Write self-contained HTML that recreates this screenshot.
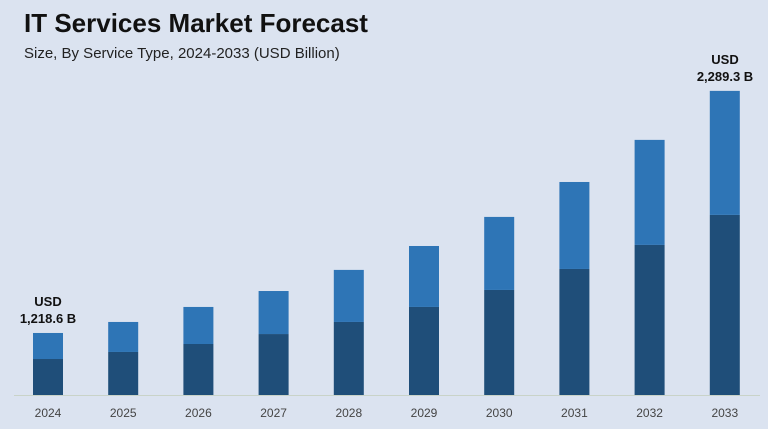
<!DOCTYPE html>
<html><head><meta charset="utf-8"><style>
body{margin:0;width:768px;height:424px;background:#dbe3f0;font-family:"Liberation Sans",sans-serif;overflow:hidden}
</style></head><body>
<svg width="768" height="424" xmlns="http://www.w3.org/2000/svg">
<rect width="768" height="424" fill="#dbe3f0"/>
<text x="24" y="32" font-size="26" font-weight="bold" fill="#111">IT Services Market Forecast</text>
<text x="24" y="58" font-size="15" fill="#222">Size, By Service Type, 2024-2033 (USD Billion)</text>
<line x1="14" x2="760" y1="395.5" y2="395.5" stroke="#c9d3c8" stroke-width="1"/>
<g id="bars"></g>
<text x="48" y="306" font-size="13" font-weight="bold" fill="#111" text-anchor="middle">USD</text>
<text x="48" y="323" font-size="13" font-weight="bold" fill="#111" text-anchor="middle">1,218.6 B</text>
<text x="725" y="64" font-size="13" font-weight="bold" fill="#111" text-anchor="middle">USD</text>
<text x="725" y="81" font-size="13" font-weight="bold" fill="#111" text-anchor="middle">2,289.3 B</text>
</svg>
<script>
const categories=["2024","2025","2026","2027","2028","2029","2030","2031","2032","2033"];
const darkValues=[271,324,384,459,550,663,791,949,1130,1356];
const lightValues=[196,226,279,324,392,459,550,655,791,934];
const NS="http://www.w3.org/2000/svg";
const baseY=395, pxPerUnit=1/7.53, x0=48, step=75.2, bw=30;
function y(v){return baseY-v*pxPerUnit;}
function xc(i){return x0+i*step;}
const g=document.getElementById('bars');
categories.forEach((c,i)=>{
  const d=darkValues[i], l=lightValues[i];
  const r1=document.createElementNS(NS,'rect');
  r1.setAttribute('x',xc(i)-bw/2);r1.setAttribute('y',y(d));r1.setAttribute('width',bw);r1.setAttribute('height',baseY-y(d));r1.setAttribute('fill','#1f4e79');
  
  
  g.appendChild(r1);
  const r2=document.createElementNS(NS,'rect');
  r2.setAttribute('x',xc(i)-bw/2);r2.setAttribute('y',y(d+l));r2.setAttribute('width',bw);r2.setAttribute('height',y(d)-y(d+l));r2.setAttribute('fill','#2e75b6');
  
  
  g.appendChild(r2);
  const t=document.createElementNS(NS,'text');
  t.setAttribute('x',xc(i));t.setAttribute('y',417);t.setAttribute('text-anchor','middle');t.setAttribute('font-size','12');t.setAttribute('fill','#444');
  t.textContent=c;
  
  
  g.appendChild(t);
});
</script>
</body></html>
